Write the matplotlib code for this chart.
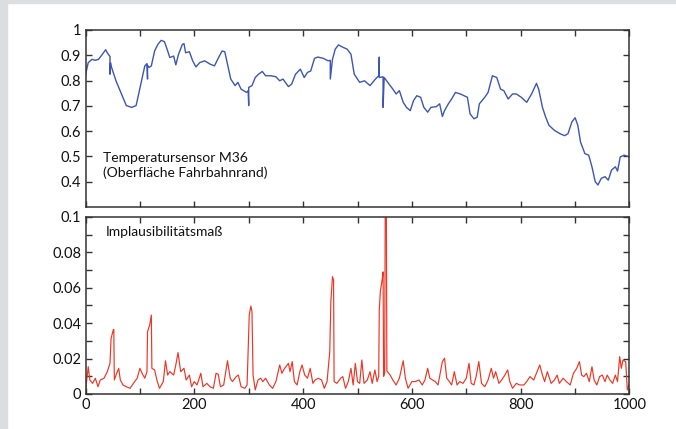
import numpy as np
import matplotlib.pyplot as plt
from matplotlib.patches import Rectangle
from matplotlib.ticker import MultipleLocator, FixedLocator, FuncFormatter

plt.rcParams['font.family'] = ['Lato', 'DejaVu Sans']

# Temperatursensor M36, normierter Verlauf
temp_x = [0, 5, 12, 18, 24, 31, 37, 40, 45, 45, 46, 47, 56, 66, 75, 85, 93, 101,
          109, 113, 114, 114, 117, 121, 127, 133, 139, 145, 149, 155, 162, 166,
          171, 178, 181, 184, 191, 197, 203, 210, 219, 229, 237, 243, 251, 256,
          261, 267, 275, 280, 286, 296, 299, 300, 300, 306, 312, 318, 325, 331,
          341, 350, 357, 363, 373, 379, 386, 395, 402, 408, 414, 421, 427, 437,
          446, 450, 450, 454, 459, 465, 472, 481, 488, 494, 504, 513, 523, 533,
          539, 540, 540, 547, 547, 549, 558, 565, 571, 577, 584, 590, 597, 603,
          609, 616, 622, 629, 635, 645, 651, 656, 660, 667, 673, 680, 689, 702,
          707, 714, 720, 724, 734, 740, 748, 756, 763, 769, 777, 785, 792, 801,
          811, 820, 829, 833, 840, 846, 852, 862, 872, 881, 887, 894, 900, 905,
          910, 918, 925, 931, 937, 942, 948, 955, 961, 967, 974, 978, 983, 990,
          1000]
temp_y = [0.823, 0.871, 0.884, 0.880, 0.884, 0.904, 0.922, 0.910, 0.895, 0.825,
          0.870, 0.858, 0.799, 0.747, 0.701, 0.694, 0.701, 0.780, 0.858, 0.867,
          0.806, 0.860, 0.852, 0.858, 0.917, 0.943, 0.959, 0.954, 0.930, 0.891,
          0.897, 0.862, 0.904, 0.943, 0.946, 0.910, 0.914, 0.878, 0.854, 0.871,
          0.878, 0.865, 0.858, 0.884, 0.917, 0.914, 0.865, 0.806, 0.780, 0.793,
          0.766, 0.753, 0.760, 0.701, 0.773, 0.780, 0.812, 0.825, 0.836, 0.819,
          0.819, 0.815, 0.799, 0.806, 0.776, 0.786, 0.825, 0.845, 0.812, 0.832,
          0.838, 0.888, 0.893, 0.888, 0.878, 0.880, 0.806, 0.884, 0.924, 0.941,
          0.933, 0.924, 0.904, 0.825, 0.793, 0.799, 0.780, 0.806, 0.819, 0.893,
          0.812, 0.815, 0.694, 0.812, 0.786, 0.766, 0.747, 0.760, 0.714, 0.694,
          0.681, 0.721, 0.740, 0.734, 0.694, 0.675, 0.694, 0.697, 0.708, 0.658,
          0.681, 0.708, 0.727, 0.753, 0.747, 0.734, 0.668, 0.649, 0.655, 0.708,
          0.734, 0.753, 0.819, 0.812, 0.766, 0.760, 0.727, 0.747, 0.747, 0.734,
          0.714, 0.747, 0.789, 0.766, 0.694, 0.655, 0.623, 0.603, 0.590, 0.582,
          0.590, 0.636, 0.653, 0.623, 0.557, 0.511, 0.505, 0.459, 0.400, 0.387,
          0.413, 0.420, 0.406, 0.446, 0.459, 0.442, 0.498, 0.505, 0.498]

# Implausibilitaetsmass
impl_x = [0, 5, 8, 13, 18, 23, 27, 34, 40, 45, 47, 51, 52, 53, 56, 61, 64, 69,
          75, 82, 88, 95, 100, 104, 109, 113, 114, 118, 121, 122, 127, 132, 136,
          143, 147, 151, 155, 162, 166, 170, 175, 181, 185, 191, 195, 200, 205,
          212, 216, 223, 229, 235, 240, 244, 248, 254, 261, 266, 270, 277, 281,
          286, 293, 297, 301, 304, 306, 308, 312, 317, 322, 326, 331, 338, 344,
          350, 357, 361, 366, 373, 376, 380, 384, 389, 394, 398, 403, 408, 413,
          418, 422, 428, 434, 439, 444, 449, 451, 454, 456, 457, 462, 469, 473,
          478, 483, 488, 492, 496, 500, 504, 508, 512, 518, 523, 527, 532, 536,
          539, 540, 542, 546, 547, 548, 550, 551, 553, 554, 560, 565, 571, 577,
          584, 588, 593, 600, 606, 613, 619, 624, 629, 633, 638, 643, 648, 652,
          656, 660, 664, 669, 673, 678, 683, 688, 694, 700, 705, 709, 714, 718,
          723, 728, 734, 740, 746, 750, 754, 760, 765, 771, 776, 780, 785, 792,
          798, 806, 811, 817, 824, 830, 835, 840, 844, 849, 856, 862, 867, 871,
          878, 884, 891, 897, 903, 908, 912, 916, 921, 926, 931, 935, 940, 945,
          950, 955, 959, 964, 969, 974, 978, 982, 985, 988, 993, 996, 1000]
impl_y = [0.0013, 0.0154, 0.0079, 0.0060, 0.0089, 0.0041, 0.0079, 0.0089,
          0.0126, 0.0173, 0.0314, 0.0362, 0.0365, 0.0079, 0.0107, 0.0145,
          0.0079, 0.0051, 0.0041, 0.0032, 0.0060, 0.0089, 0.0145, 0.0117,
          0.0089, 0.0126, 0.0352, 0.0390, 0.0446, 0.0145, 0.0136, 0.0070,
          0.0032, 0.0070, 0.0188, 0.0107, 0.0126, 0.0107, 0.0164, 0.0234,
          0.0126, 0.0145, 0.0079, 0.0107, 0.0041, 0.0070, 0.0051, 0.0117,
          0.0041, 0.0060, 0.0041, 0.0032, 0.0117, 0.0111, 0.0041, 0.0051,
          0.0188, 0.0089, 0.0070, 0.0098, 0.0107, 0.0041, 0.0032, 0.0051,
          0.0446, 0.0497, 0.0465, 0.0107, 0.0023, 0.0079, 0.0089, 0.0070,
          0.0089, 0.0051, 0.0032, 0.0070, 0.0164, 0.0117, 0.0145, 0.0173,
          0.0126, 0.0183, 0.0070, 0.0051, 0.0126, 0.0164, 0.0107, 0.0089,
          0.0145, 0.0060, 0.0079, 0.0089, 0.0079, 0.0032, 0.0070, 0.0239,
          0.0522, 0.0663, 0.0644, 0.0070, 0.0060, 0.0089, 0.0098, 0.0032,
          0.0070, 0.0145, 0.0051, 0.0173, 0.0070, 0.0060, 0.0192, 0.0060,
          0.0079, 0.0126, 0.0060, 0.0136, 0.0070, 0.0100, 0.0470, 0.0580,
          0.0660, 0.0690, 0.0100, 0.0120, 0.1050, 0.1050, 0.0130, 0.0107,
          0.0079, 0.0051, 0.0089, 0.0188, 0.0089, 0.0032, 0.0070, 0.0070,
          0.0079, 0.0051, 0.0079, 0.0145, 0.0089, 0.0079, 0.0070, 0.0051,
          0.0117, 0.0183, 0.0202, 0.0089, 0.0070, 0.0051, 0.0126, 0.0051,
          0.0070, 0.0060, 0.0089, 0.0173, 0.0060, 0.0051, 0.0098, 0.0183,
          0.0060, 0.0041, 0.0079, 0.0145, 0.0089, 0.0126, 0.0060, 0.0079,
          0.0107, 0.0136, 0.0070, 0.0032, 0.0060, 0.0051, 0.0051, 0.0070,
          0.0098, 0.0079, 0.0126, 0.0164, 0.0107, 0.0070, 0.0126, 0.0060,
          0.0079, 0.0107, 0.0060, 0.0089, 0.0070, 0.0051, 0.0117, 0.0145,
          0.0183, 0.0107, 0.0098, 0.0117, 0.0070, 0.0154, 0.0079, 0.0051,
          0.0098, 0.0107, 0.0070, 0.0107, 0.0079, 0.0060, 0.0107, 0.0070,
          0.0211, 0.0145, 0.0192, 0.0183, 0.0023, 0.0060]

fig = plt.figure(figsize=(6.76, 4.29), dpi=100)
fig.patch.set_facecolor('white')
# grey frame strips at the top and left edge
fig.patches.append(Rectangle((0, 1 - 3 / 429), 1, 3 / 429, transform=fig.transFigure,
                             color='#dcdddf', zorder=-1))
fig.patches.append(Rectangle((0, 0), 7 / 676, 1, transform=fig.transFigure,
                             color='#dcdddf', zorder=-1))

ax1 = fig.add_axes([0.1265, 0.5175, 0.8047, 0.4126])
ax2 = fig.add_axes([0.1265, 0.0816, 0.8047, 0.4126])

ax1.plot(temp_x, temp_y, color='#3d55b4', lw=1.0)
ax2.plot(impl_x, impl_y, color='#ee3524', lw=0.85)

def fmt(v, pos):
    s = ('%.2f' % v).rstrip('0').rstrip('.')
    return s

for ax in (ax1, ax2):
    ax.set_xlim(0, 1000)
    ax.xaxis.set_major_locator(MultipleLocator(200))
    ax.xaxis.set_minor_locator(MultipleLocator(100))
    ax.tick_params(which='both', direction='in', top=True, right=True,
                   length=4, width=1.0, color='#333333',
                   labelsize=10.5, labelcolor='#111111', pad=3)
    for sp in ax.spines.values():
        sp.set_color('#333333')
        sp.set_linewidth(1.1)

ax1.set_ylim(0.3, 1.0)
ax1.yaxis.set_major_locator(FixedLocator([0.4, 0.5, 0.6, 0.7, 0.8, 0.9, 1.0]))
ax1.yaxis.set_major_formatter(FuncFormatter(fmt))
ax1.tick_params(labelbottom=False)

ax2.set_ylim(0, 0.1)
ax2.yaxis.set_major_locator(MultipleLocator(0.02))
ax2.yaxis.set_minor_locator(MultipleLocator(0.01))
ax2.yaxis.set_major_formatter(FuncFormatter(fmt))

ax1.text(0.032, 0.235, 'Temperatursensor M36\n(Oberfläche Fahrbahnrand)',
         transform=ax1.transAxes, fontsize=10, va='center', ha='left',
         linespacing=1.25, color='#111111')
ax2.text(0.038, 0.915, 'Implausibilitätsmaß', transform=ax2.transAxes,
         fontsize=10, va='center', ha='left', color='#111111')

fig.savefig('out.png', dpi=100)
